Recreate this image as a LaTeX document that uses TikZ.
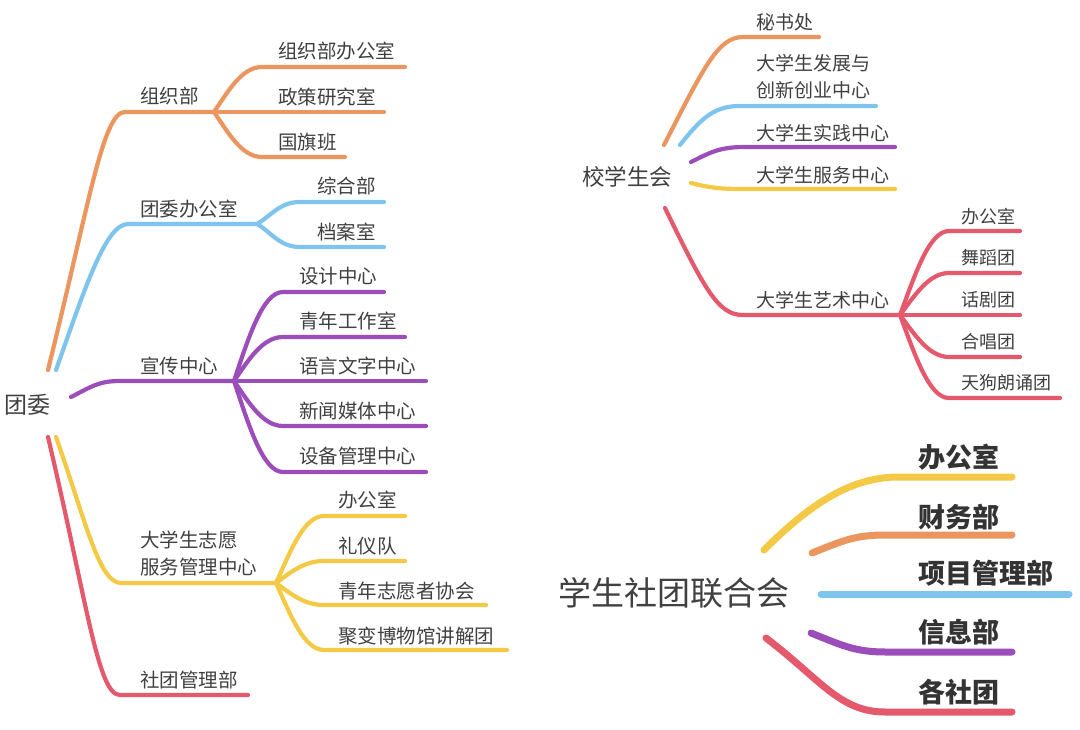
\documentclass[tikz,border=0pt]{standalone}
\usepackage{fontspec}
\setmainfont{Noto Sans CJK SC}
\definecolor{ink}{HTML}{404040}
\definecolor{cOrange}{HTML}{EB955F}
\definecolor{cBlue}{HTML}{7FC4EC}
\definecolor{cPurple}{HTML}{9B4DBA}
\definecolor{cYellow}{HTML}{F3C945}
\definecolor{cRed}{HTML}{E4596B}
\tikzset{
  lbl/.style={anchor=west, inner sep=0pt, text=ink, font=\fontsize{19.5}{27}\selectfont, align=left},
  sml/.style={lbl, font=\fontsize{18}{22}\selectfont},
  big/.style={lbl, text=black!80, font=\fontsize{27}{32}\selectfont\bfseries},
  fat/.style={line width=7pt}
}
\begin{document}
\begin{tikzpicture}[x=1pt, y=-1pt, line width=4.2pt, line cap=round, line join=round]

  %% ════ 团委 ════
  \node[lbl, font=\fontsize{23}{28}\selectfont] (tw) at (2,405) {团委};
  \coordinate (tw-o) at (48,370);  \coordinate (tw-b) at (56,370);
  \coordinate (tw-p) at (71,397);
  \coordinate (tw-y) at (56,437);  \coordinate (tw-r) at (48,437);

  % 组织部
  \node[lbl] (zzb) at (138,96) {组织部};
  \coordinate (zzb-l) at (125,112); \coordinate (zzb-f) at (214,112);
  \node[lbl] (zzb1) at (276,51) {组织部办公室};
  \node[lbl] (zzb2) at (276,97) {政策研究室};
  \node[lbl] (zzb3) at (276,142) {国旗班};
  \coordinate (zzb1-l) at (262,67);  \coordinate (zzb1-r) at (405,67);
  \coordinate (zzb2-r) at (384,112);
  \coordinate (zzb3-l) at (262,157); \coordinate (zzb3-r) at (345,157);
  \draw[cOrange] (tw-o) .. controls +(42,-170) and +(-22,0) .. (zzb-l) -- (zzb-f);
  \draw[cOrange] (zzb-f) .. controls +(15,-22) and +(-20,0) .. (zzb1-l) -- (zzb1-r);
  \draw[cOrange] (zzb-f) -- (zzb2-r);
  \draw[cOrange] (zzb-f) .. controls +(15,22) and +(-20,0) .. (zzb3-l) -- (zzb3-r);

  % 团委办公室
  \node[lbl] (bgs) at (138,209) {团委办公室};
  \coordinate (bgs-l) at (128,224); \coordinate (bgs-f) at (257,224);
  \node[lbl] (bgs1) at (315,186) {综合部};
  \node[lbl] (bgs2) at (315,232) {档案室};
  \coordinate (bgs1-l) at (300,202); \coordinate (bgs1-r) at (384,202);
  \coordinate (bgs2-l) at (300,247); \coordinate (bgs2-r) at (384,247);
  \draw[cBlue] (tw-b) .. controls +(30,-85) and +(-22,0) .. (bgs-l) -- (bgs-f);
  \draw[cBlue] (bgs-f) .. controls +(15,-9) and +(-20,0) .. (bgs1-l) -- (bgs1-r);
  \draw[cBlue] (bgs-f) .. controls +(15,9) and +(-20,0) .. (bgs2-l) -- (bgs2-r);

  % 宣传中心
  \node[lbl] (xc) at (138,366) {宣传中心};
  \coordinate (xc-l) at (120,381); \coordinate (xc-f) at (234,381);
  \node[lbl] (xc1) at (297,276) {设计中心};
  \node[lbl] (xc2) at (297,321) {青年工作室};
  \node[lbl] (xc3) at (297,366) {语言文字中心};
  \node[lbl] (xc4) at (297,411) {新闻媒体中心};
  \node[lbl] (xc5) at (297,456) {设备管理中心};
  \coordinate (xc1-l) at (283,292); \coordinate (xc1-r) at (384,292);
  \coordinate (xc2-l) at (283,337); \coordinate (xc2-r) at (405,337);
  \coordinate (xc3-r) at (426,381);
  \coordinate (xc4-l) at (283,426); \coordinate (xc4-r) at (426,426);
  \coordinate (xc5-l) at (283,472); \coordinate (xc5-r) at (426,472);
  \draw[cPurple] (tw-p) .. controls +(20,-10) and +(-22,0) .. (xc-l) -- (xc-f);
  \draw[cPurple] (xc-f) .. controls +(15,-45) and +(-20,0) .. (xc1-l) -- (xc1-r);
  \draw[cPurple] (xc-f) .. controls +(15,-22) and +(-20,0) .. (xc2-l) -- (xc2-r);
  \draw[cPurple] (xc-f) -- (xc3-r);
  \draw[cPurple] (xc-f) .. controls +(15,22) and +(-20,0) .. (xc4-l) -- (xc4-r);
  \draw[cPurple] (xc-f) .. controls +(15,45) and +(-20,0) .. (xc5-l) -- (xc5-r);

  % 大学生志愿服务管理中心
  \node[lbl] (zy) at (138,554) {大学生志愿\\服务管理中心};
  \coordinate (zy-l) at (121,583); \coordinate (zy-f) at (276,583);
  \node[lbl] (zy1) at (336,500) {办公室};
  \node[lbl] (zy2) at (336,546) {礼仪队};
  \node[lbl] (zy3) at (336,591) {青年志愿者协会};
  \node[lbl] (zy4) at (336,636) {聚变博物馆讲解团};
  \coordinate (zy1-l) at (324,516); \coordinate (zy1-r) at (405,516);
  \coordinate (zy2-l) at (324,561); \coordinate (zy2-r) at (405,561);
  \coordinate (zy3-l) at (324,605); \coordinate (zy3-r) at (486,605);
  \coordinate (zy4-l) at (324,650); \coordinate (zy4-r) at (507,650);
  \draw[cYellow] (tw-y) .. controls +(30,85) and +(-22,0) .. (zy-l) -- (zy-f);
  \draw[cYellow] (zy-f) .. controls +(15,-33) and +(-20,0) .. (zy1-l) -- (zy1-r);
  \draw[cYellow] (zy-f) .. controls +(15,-11) and +(-20,0) .. (zy2-l) -- (zy2-r);
  \draw[cYellow] (zy-f) .. controls +(15,11) and +(-20,0) .. (zy3-l) -- (zy3-r);
  \draw[cYellow] (zy-f) .. controls +(15,33) and +(-20,0) .. (zy4-l) -- (zy4-r);

  % 社团管理部
  \node[lbl] (st) at (138,680) {社团管理部};
  \coordinate (st-l) at (120,695); \coordinate (st-r) at (248,695);
  \draw[cRed] (tw-r) .. controls +(40,170) and +(-22,0) .. (st-l) -- (st-r);

  %% ════ 校学生会 ════
  \node[lbl, font=\fontsize{22.5}{28}\selectfont] (xsh) at (580,177) {校学生会};
  \coordinate (xsh-o) at (664,145); \coordinate (xsh-b) at (680,145);
  \coordinate (xsh-p) at (691,162); \coordinate (xsh-y) at (691,183);
  \coordinate (xsh-r) at (665,208);

  \node[lbl, font=\fontsize{19}{27}\selectfont] (msc) at (754,22) {秘书处};
  \node[lbl, font=\fontsize{19}{27}\selectfont] (cx) at (754,77) {大学生发展与\\创新创业中心};
  \node[lbl, font=\fontsize{19}{27}\selectfont] (sj) at (754,133) {大学生实践中心};
  \node[lbl, font=\fontsize{19}{27}\selectfont] (fw) at (754,175) {大学生服务中心};
  \node[lbl, font=\fontsize{19}{27}\selectfont] (ys) at (754,300) {大学生艺术中心};
  \coordinate (msc-l) at (743,37);  \coordinate (msc-r) at (819,37);
  \coordinate (cx-l) at (740,106);  \coordinate (cx-r) at (876,106);
  \coordinate (sj-l) at (745,147);  \coordinate (sj-r) at (895,147);
  \coordinate (fw-l) at (745,189);  \coordinate (fw-r) at (895,189);
  \coordinate (ys-l) at (743,315);  \coordinate (ys-f) at (900,315);
  \draw[cOrange] (xsh-o) .. controls +(40,-78) and +(-25,0) .. (msc-l) -- (msc-r);
  \draw[cBlue] (xsh-b) .. controls +(22,-28) and +(-25,0) .. (cx-l) -- (cx-r);
  \draw[cPurple] (xsh-p) .. controls +(20,-10) and +(-25,0) .. (sj-l) -- (sj-r);
  \draw[cYellow] (xsh-y) .. controls +(20,5) and +(-25,0) .. (fw-l) -- (fw-r);
  \draw[cRed] (xsh-r) .. controls +(40,82) and +(-25,0) .. (ys-l) -- (ys-f);

  \node[sml] (ys1) at (959,217) {办公室};
  \node[sml] (ys2) at (959,258) {舞蹈团};
  \node[sml] (ys3) at (959,300) {话剧团};
  \node[sml] (ys4) at (959,342) {合唱团};
  \node[sml] (ys5) at (959,383) {天狗朗诵团};
  \coordinate (ys1-l) at (949,231); \coordinate (ys1-r) at (1020,231);
  \coordinate (ys2-l) at (949,273); \coordinate (ys2-r) at (1020,273);
  \coordinate (ys3-r) at (1020,315);
  \coordinate (ys4-l) at (949,357); \coordinate (ys4-r) at (1020,357);
  \coordinate (ys5-l) at (949,398); \coordinate (ys5-r) at (1060,398);
  \draw[cRed] (ys-f) .. controls +(15,-40) and +(-20,0) .. (ys1-l) -- (ys1-r);
  \draw[cRed] (ys-f) .. controls +(15,-20) and +(-20,0) .. (ys2-l) -- (ys2-r);
  \draw[cRed] (ys-f) -- (ys3-r);
  \draw[cRed] (ys-f) .. controls +(15,20) and +(-20,0) .. (ys4-l) -- (ys4-r);
  \draw[cRed] (ys-f) .. controls +(15,40) and +(-20,0) .. (ys5-l) -- (ys5-r);

  %% ════ 学生社团联合会 ════
  \node[lbl, font=\fontsize{33}{40}\selectfont] (lh) at (556,593) {学生社团联合会};
  \coordinate (lh-y) at (764,550); \coordinate (lh-o) at (812,553);
  \coordinate (lh-b) at (821,594); \coordinate (lh-p) at (811,633);
  \coordinate (lh-r) at (766,638);

  \node[big] (lh1) at (916,457) {办公室};
  \node[big] (lh2) at (916,517) {财务部};
  \node[big] (lh3) at (916,573) {项目管理部};
  \node[big] (lh4) at (916,632) {信息部};
  \node[big] (lh5) at (916,692) {各社团};
  \coordinate (lh1-l) at (899,477); \coordinate (lh1-r) at (1012,477);
  \coordinate (lh2-l) at (885,535); \coordinate (lh2-r) at (1012,535);
  \coordinate (lh3-r) at (1069,594);
  \coordinate (lh4-l) at (885,652); \coordinate (lh4-r) at (1012,652);
  \coordinate (lh5-l) at (885,712); \coordinate (lh5-r) at (1012,712);
  \draw[cYellow, fat] (lh-y) .. controls +(50,-50) and +(-45,0) .. (lh1-l) -- (lh1-r);
  \draw[cOrange, fat] (lh-o) .. controls +(30,-12) and +(-30,0) .. (lh2-l) -- (lh2-r);
  \draw[cBlue, fat] (lh-b) -- (lh3-r);
  \draw[cPurple, fat] (lh-p) .. controls +(30,12) and +(-30,0) .. (lh4-l) -- (lh4-r);
  \draw[cRed, fat] (lh-r) .. controls +(55,42) and +(-45,0) .. (lh5-l) -- (lh5-r);

  % 画布
  \pgfresetboundingbox
  \path[use as bounding box] (0,0) rectangle (1080,730);
\end{tikzpicture}
\end{document}
